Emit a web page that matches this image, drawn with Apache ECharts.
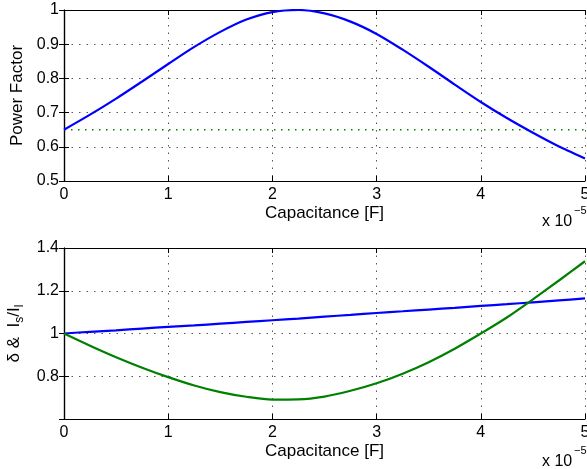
<!DOCTYPE html>
<html>
<head>
<meta charset="utf-8">
<script src="https://cdn.jsdelivr.net/npm/echarts@6/dist/echarts.min.js"></script>
<style>
  html, body { margin: 0; padding: 0; background: #fff; }
  #main { width: 587px; height: 469px; }
</style>
</head>
<body>
<div id="main"></div>
<script>
// capacitance, in units of 1e-5 F
const capX = [0, 0.25, 0.5, 0.75, 1, 1.25, 1.5, 1.75, 2, 2.25, 2.5,
  2.75, 3, 3.25, 3.5, 3.75, 4, 4.25, 4.5, 4.75, 5]
// top plot: power factor
const powerFactor = [0.650, 0.694, 0.741, 0.791, 0.842, 0.892, 0.936, 0.972, 0.994, 1.000, 0.990,
  0.966, 0.930, 0.884, 0.834, 0.782, 0.731, 0.684, 0.641, 0.601, 0.566]
// uncorrected power factor reference (dotted green)
const refX = [0, 5]
const refPF = [0.65, 0.65]
// bottom plot: delta (blue) and |Is/Il| (green)
const delta = [1.000, 1.008, 1.015, 1.023, 1.031, 1.038, 1.046, 1.054, 1.062, 1.070, 1.079,
  1.087, 1.096, 1.104, 1.112, 1.120, 1.129, 1.137, 1.146, 1.155, 1.164]
const currentRatio = [1.000, 0.943, 0.889, 0.840, 0.796, 0.757, 0.726, 0.704, 0.691, 0.692, 0.705,
  0.732, 0.767, 0.812, 0.866, 0.929, 1.000, 1.075, 1.160, 1.248, 1.338]
const xTicks = [0, 1, 2, 3, 4, 5]

const font = 'Liberation Sans, Arial, Helvetica, sans-serif'
const pairs = (xs, ys) => xs.map((x, i) => [x, ys[i]])

const myChart = echarts.init(document.getElementById('main'), null, { renderer: 'canvas' })

const gridStyle = { show: true, lineStyle: { color: '#555', type: [1.5, 6], width: 1 } }
const tickIn = { inside: true, length: 5, lineStyle: { color: '#000' } }
const axisLine = { show: true, lineStyle: { color: '#000', width: 1.2 } }

function xMain(gridIndex) {
  return {
    type: 'value', gridIndex, min: 0, max: 5, interval: 1,
    name: 'Capacitance [F]', nameLocation: 'middle', nameGap: 24,
    nameTextStyle: { fontFamily: font, fontSize: 17, color: '#000' },
    axisLine, axisTick: tickIn, splitLine: gridStyle,
    axisLabel: { fontFamily: font, fontSize: 16, color: '#000', margin: 6,
      formatter: v => xTicks.includes(v) ? String(v) : '' }
  }
}
function xTop(gridIndex) {
  return { type: 'value', gridIndex, position: 'top', min: 0, max: 5, interval: 1,
    axisLine, axisTick: tickIn, axisLabel: { show: false }, splitLine: { show: false } }
}
function yRight(gridIndex, min, max, interval) {
  return { type: 'value', gridIndex, position: 'right', min, max, interval,
    axisLine, axisTick: tickIn, axisLabel: { show: false }, splitLine: { show: false } }
}

const option = {
  animation: false,
  backgroundColor: '#fff',
  grid: [
    { left: 64, right: 2, top: 10, height: 171, outerBoundsMode: 'none', containLabel: false },
    { left: 64, right: 2, top: 248, height: 171, outerBoundsMode: 'none', containLabel: false }
  ],
  xAxis: [xMain(0), xTop(0), xMain(1), xTop(1)],
  yAxis: [
    {
      type: 'value', gridIndex: 0, min: 0.5, max: 1, interval: 0.1,
      name: 'Power Factor', nameLocation: 'middle', nameGap: 27, nameRotate: 90,
      nameTextStyle: { fontFamily: font, fontSize: 17, color: '#000' },
      axisLine, axisTick: tickIn, splitLine: gridStyle,
      axisLabel: { fontFamily: font, fontSize: 16, color: '#000', margin: 5,
        formatter: v => String(Math.round(v * 10) / 10) }
    },
    yRight(0, 0.5, 1, 0.1),
    {
      type: 'value', gridIndex: 1, min: 0.6, max: 1.4, interval: 0.2,
      name: '{n|δ &  I}{s|s}{n|/I}{s|l}', nameLocation: 'middle', nameGap: 32, nameRotate: 90,
      nameTextStyle: {
        fontFamily: font, fontSize: 17, color: '#000',
        rich: {
          n: { fontFamily: font, fontSize: 17, color: '#000', lineHeight: 20, verticalAlign: 'top' },
          s: { fontFamily: font, fontSize: 12, color: '#000', lineHeight: 12, verticalAlign: 'bottom', padding: [12, 0, 0, 0] }
        }
      },
      axisLine, axisTick: tickIn, splitLine: gridStyle,
      axisLabel: { fontFamily: font, fontSize: 16, color: '#000', margin: 5,
        formatter: v => v < 0.7 ? '' : String(Math.round(v * 10) / 10) }
    },
    yRight(1, 0.6, 1.4, 0.2)
  ],
  graphic: [
    { type: 'text', left: 542, top: 214, style: { text: 'x 10', font: '16px ' + font, fill: '#000' } },
    { type: 'text', left: 574, top: 205, style: { text: '−5', font: '11px ' + font, fill: '#000' } },
    { type: 'text', left: 542, top: 454, style: { text: 'x 10', font: '16px ' + font, fill: '#000' } },
    { type: 'text', left: 574, top: 445, style: { text: '−5', font: '11px ' + font, fill: '#000' } }
  ],
  series: [
    {
      type: 'line', xAxisIndex: 0, yAxisIndex: 0, data: pairs(refX, refPF),
      showSymbol: false, lineStyle: { color: '#008000', width: 1.5, type: [1.5, 5.5] }
    },
    {
      type: 'line', xAxisIndex: 0, yAxisIndex: 0, data: pairs(capX, powerFactor),
      smooth: 0.3, showSymbol: false, lineStyle: { color: '#0000ff', width: 2.2 }
    },
    {
      type: 'line', xAxisIndex: 2, yAxisIndex: 2, data: pairs(capX, delta),
      smooth: 0.3, showSymbol: false, lineStyle: { color: '#0000ff', width: 2.2 }
    },
    {
      type: 'line', xAxisIndex: 2, yAxisIndex: 2, data: pairs(capX, currentRatio),
      smooth: 0.3, showSymbol: false, lineStyle: { color: '#008000', width: 2.2 }
    }
  ]
}

myChart.setOption(option)
</script>
</body>
</html>
